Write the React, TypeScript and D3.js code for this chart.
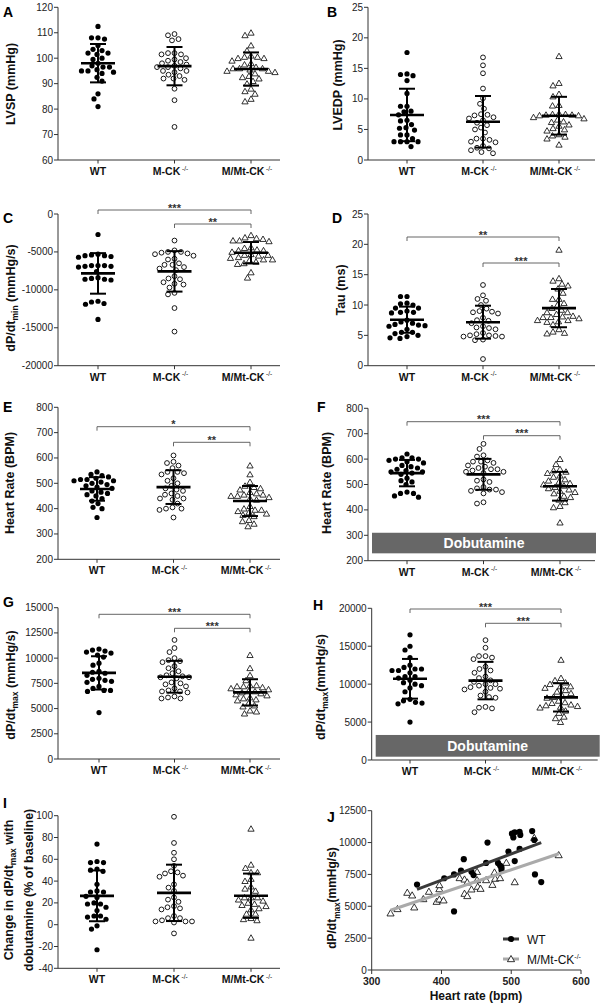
import React from 'react';
import * as d3 from 'd3';

const FONT = 'Arial, "Liberation Sans", Helvetica, sans-serif';
const groups = ['WT', 'M-CK', 'M/Mt-CK'];

// A: LVSP (mmHg)
const aWT = [112.5, 108, 108, 107.5, 105, 103.5, 103, 102, 102, 101.5, 100, 99.5, 98, 97, 96.5, 96.5, 95.5, 95, 95, 94.5, 94, 92.5, 91, 86, 84, 81];
const aMCK = [109.5, 109, 107.5, 107, 102, 102, 101.5, 101.5, 100, 99.5, 99, 98.5, 98, 97.5, 97, 96.5, 96.5, 96, 95, 95, 94.5, 93.5, 93, 92, 92, 91.5, 88, 83.5, 73];
const aMMT = [110, 109, 105, 103, 101, 100.5, 100.5, 100, 100, 99, 98, 97.5, 96.5, 96, 96, 96, 95.5, 95, 95, 94.5, 94, 93, 92.5, 92, 91, 90, 88, 87, 86, 84, 83];
// B: LVEDP (mmHg)
const bWT = [17.6, 14.1, 14.0, 13.8, 13.0, 10.9, 8.8, 8.8, 8.0, 7.9, 7.4, 6.5, 6.4, 5.8, 5.3, 5.2, 4.9, 4.1, 4.1, 3.5, 3.0, 3.0, 3.0, 3.0, 2.2];
const bMCK = [16.8, 15.5, 14.2, 11.7, 10.1, 9.2, 8.4, 7.5, 7.4, 7.3, 7.0, 6.8, 6.5, 6.1, 5.7, 5.3, 5.0, 4.5, 3.5, 3.5, 3.3, 3.0, 2.9, 2.3, 2.0, 1.9, 1.6, 1.3, 1.1];
const bMMT = [17.0, 12.6, 12.2, 10.8, 10.4, 9.0, 8.9, 7.6, 7.5, 7.5, 7.4, 7.4, 7.3, 7.3, 7.0, 6.8, 6.6, 6.3, 6.2, 5.8, 5.6, 5.2, 5.0, 4.8, 4.2, 4.0, 3.8, 3.5, 2.5];
// C: dP/dt min
const cWT = [-2700, -5300, -5400, -5500, -5500, -5600, -5700, -6800, -6800, -6900, -6900, -7000, -6800, -7600, -8400, -8500, -8600, -8700, -8600, -11500, -11600, -11800, -11900, -13900];
const cMCK = [-3500, -4800, -5000, -5000, -5100, -5200, -5300, -5500, -5900, -6000, -6500, -6700, -6700, -7000, -7200, -7400, -8200, -8500, -8600, -9000, -9200, -9300, -9700, -10400, -10600, -12400, -15500];
const cMMT = [-2800, -3100, -3200, -3300, -3500, -3500, -3600, -4700, -4800, -4400, -4500, -4800, -5000, -5300, -5400, -5400, -5500, -5700, -5800, -6000, -6000, -6100, -6300, -6500, -6600, -7700, -8400];
// D: Tau (ms)
const dWT = [11.4, 11.4, 10.3, 10.2, 10.0, 9.5, 9.5, 9.0, 8.8, 8.8, 8.7, 7.5, 7.2, 7.0, 6.8, 6.7, 6.6, 6.5, 6.0, 5.5, 5.5, 5.3, 5.0, 4.8, 4.6, 4.5];
const dMCK = [13.3, 11.6, 11.0, 10.7, 10.0, 9.4, 9.0, 8.9, 8.8, 8.6, 7.9, 7.5, 7.4, 7.0, 6.5, 6.3, 6.2, 6.0, 5.4, 5.2, 5.0, 5.0, 4.9, 4.8, 4.8, 4.3, 4.2, 1.1];
const dMMT = [19.1, 14.4, 14.0, 13.5, 13.2, 12.7, 12.0, 11.0, 11.0, 10.3, 10.0, 9.5, 9.2, 8.8, 8.8, 8.5, 8.2, 8.1, 8.0, 8.0, 7.8, 7.5, 7.5, 7.3, 7.2, 6.8, 6.0, 5.6, 5.4, 5.3];
// E: Heart rate (BPM)
const eWT = [545, 535, 530, 525, 520, 515, 515, 510, 510, 505, 500, 495, 490, 485, 480, 470, 465, 460, 455, 450, 440, 430, 420, 405, 400, 365];
const eMCK = [610, 585, 580, 570, 560, 545, 545, 540, 535, 520, 510, 500, 490, 480, 475, 470, 460, 455, 450, 440, 440, 435, 420, 405, 400, 400, 395, 365];
const eMMT = [570, 535, 505, 490, 485, 480, 475, 465, 460, 455, 455, 450, 450, 445, 440, 435, 410, 400, 395, 395, 390, 385, 380, 375, 370, 355, 350, 340, 330];
// F: Heart rate with dobutamine (BPM)
const fWT = [620, 605, 605, 600, 600, 595, 590, 585, 575, 570, 565, 560, 555, 550, 550, 545, 540, 525, 515, 510, 500, 470, 465, 465, 455, 450];
const fMCK = [660, 640, 615, 610, 595, 590, 590, 585, 575, 570, 565, 560, 560, 555, 550, 550, 545, 520, 515, 510, 490, 485, 480, 480, 475, 470, 465, 430, 425];
const fMMT = [600, 580, 560, 555, 550, 545, 535, 530, 520, 515, 510, 505, 500, 495, 490, 485, 480, 475, 470, 465, 455, 450, 440, 430, 415, 410, 350];
// G: dP/dt max
const gWT = [10900, 10800, 10700, 10600, 10500, 10300, 10100, 9500, 9300, 8700, 8600, 8500, 8300, 8000, 7900, 7800, 7700, 7600, 7200, 7000, 6800, 6700, 6800, 4600];
const gMCK = [11800, 11000, 10600, 10000, 9800, 9700, 9600, 9200, 9000, 8700, 8500, 8300, 8200, 8100, 8100, 8000, 7600, 7500, 7400, 7200, 7000, 6800, 6700, 6700, 6600, 6200, 6100, 6000, 6000];
const gMMT = [10300, 9000, 8300, 7800, 7300, 7300, 7200, 7200, 7100, 7000, 6900, 6700, 6700, 6600, 6500, 6400, 6300, 6100, 6000, 5900, 5800, 5500, 5300, 5200, 4800, 4700, 4500];
// H: dP/dt max with dobutamine
const hWT = [16500, 15000, 14500, 13500, 12500, 12200, 12000, 12000, 11800, 11800, 11500, 11000, 11000, 10800, 10500, 10200, 10000, 9800, 9500, 9000, 8000, 7800, 7600, 7500, 7400, 5000];
const hMCK = [15800, 14800, 13700, 13700, 13500, 13300, 12300, 12000, 11800, 11500, 11000, 10800, 10500, 10300, 10000, 10000, 9800, 9600, 9500, 9400, 9300, 9000, 8500, 8300, 8200, 7000, 6900, 6800, 6300];
const hMMT = [13200, 10800, 10500, 10200, 10000, 9700, 9700, 9500, 9200, 9000, 8800, 8500, 8300, 8200, 7800, 7600, 7500, 7300, 7200, 7100, 7000, 6900, 6500, 6200, 5700, 5500, 5000];
// I: change in dP/dt max (% of baseline)
const iWT = [74, 58, 57, 57, 51, 50, 49, 37, 31, 30, 30, 26, 25, 20, 19, 19, 16, 13, 8, 8, 7, 5, -1, -4, -23];
const iMCK = [99, 75, 66, 60, 54, 49, 48, 47, 45, 44, 37, 34, 31, 25, 23, 21, 17, 16, 15, 14, 8, 6, 6, 4, 3, 3, 3, 2, -8];
const iMMT = [88, 55, 52, 48, 48, 42, 40, 35, 33, 31, 25, 25, 25, 23, 22, 20, 19, 18, 17, 15, 14, 10, 10, 6, 5, 4, -12];
// J: dP/dt max vs heart rate
const jWtHR = [365, 404, 418, 418, 428, 432, 443, 446, 466, 464, 481, 484, 486, 486, 496, 501, 503, 505, 505, 512, 513, 512, 530, 533, 534, 543];
const jWtDp = [6700, 7200, 7500, 4600, 7800, 8700, 7700, 7450, 10000, 8400, 8400, 8200, 8050, 7850, 9300, 10700, 10400, 10800, 8550, 10850, 10600, 9500, 10900, 10200, 7500, 6900];
const jMmtHR = [327, 337, 351, 358, 361, 374, 382, 393, 397, 397, 397, 403, 426, 433, 433, 437, 437, 443, 451, 452, 456, 451, 464, 473, 477, 476, 484, 493, 505, 533, 568];
const jMmtDp = [4450, 4790, 6070, 5860, 4920, 5570, 6150, 5360, 5540, 6350, 6670, 5470, 7220, 7110, 5990, 5810, 6880, 6330, 7710, 6540, 6380, 7060, 7060, 6690, 7170, 7660, 7220, 8420, 6900, 10380, 9020];

type Seg = { t: string; sub?: boolean };
type Bracket = { from: number; to: number; y: number; stars: string };
type Panel = {
  letter: string; lx: number; ly: number;
  axisX: number; axisLen: number; cat: [number, number];
  yTop: number; yBot: number; domain: [number, number]; step: number;
  titles: { segs: Seg[]; x: number }[]; titleY: number;
  data: number[][];
  brackets: Bracket[];
  dob?: [number, number];
};

const dpMin: Seg[] = [{ t: 'dP/dt' }, { t: 'min', sub: true }, { t: ' (mmHg/s)' }];
const dpMax: Seg[] = [{ t: 'dP/dt' }, { t: 'max', sub: true }, { t: ' (mmHg/s)' }];
const dpMax2: Seg[] = [{ t: 'dP/dt' }, { t: 'max', sub: true }, { t: '(mmHg/s)' }];

const panels: Panel[] = [
  { letter: 'A', lx: 3, ly: 17, axisX: 58, axisLen: 222, cat: [98, 251], yTop: 7.3, yBot: 160, domain: [60, 120], step: 10,
    titles: [{ segs: [{ t: 'LVSP (mmHg)' }], x: 10 }], titleY: 84, data: [aWT, aMCK, aMMT], brackets: [] },
  { letter: 'B', lx: 327, ly: 17, axisX: 368, axisLen: 227, cat: [407, 559], yTop: 7.3, yBot: 160, domain: [0, 25], step: 5,
    titles: [{ segs: [{ t: 'LVEDP (mmHg)' }], x: 337 }], titleY: 85, data: [bWT, bMCK, bMMT], brackets: [] },
  { letter: 'C', lx: 3, ly: 223, axisX: 58, axisLen: 222, cat: [98, 251], yTop: 214, yBot: 365.7, domain: [-20000, 0], step: 5000,
    titles: [{ segs: dpMin, x: 10 }], titleY: 298, data: [cWT, cMCK, cMMT],
    brackets: [{ from: 0, to: 2, y: 210, stars: '***' }, { from: 1, to: 2, y: 224, stars: '**' }] },
  { letter: 'D', lx: 332, ly: 223, axisX: 368, axisLen: 227, cat: [407, 559], yTop: 214, yBot: 365.7, domain: [0, 25], step: 5,
    titles: [{ segs: [{ t: 'Tau (ms)' }], x: 340 }], titleY: 290, data: [dWT, dMCK, dMMT],
    brackets: [{ from: 0, to: 2, y: 237, stars: '**' }, { from: 1, to: 2, y: 263, stars: '***' }] },
  { letter: 'E', lx: 3, ly: 412, axisX: 58, axisLen: 222, cat: [97, 250], yTop: 407.3, yBot: 559.3, domain: [200, 800], step: 100,
    titles: [{ segs: [{ t: 'Heart Rate (BPM)' }], x: 9 }], titleY: 483, data: [eWT, eMCK, eMMT],
    brackets: [{ from: 0, to: 2, y: 426.7, stars: '*' }, { from: 1, to: 2, y: 442.3, stars: '**' }] },
  { letter: 'F', lx: 317, ly: 412, axisX: 368, axisLen: 227, cat: [407, 560], yTop: 408.3, yBot: 560.7, domain: [200, 800], step: 100,
    titles: [{ segs: [{ t: 'Heart Rate (BPM)' }], x: 326 }], titleY: 483, data: [fWT, fMCK, fMMT],
    brackets: [{ from: 0, to: 2, y: 421.7, stars: '***' }, { from: 1, to: 2, y: 435.7, stars: '***' }], dob: [229, 310] },
  { letter: 'G', lx: 3, ly: 607, axisX: 58, axisLen: 222, cat: [99, 250], yTop: 607.7, yBot: 759, domain: [0, 15000], step: 2500,
    titles: [{ segs: dpMax, x: 10 }], titleY: 685, data: [gWT, gMCK, gMMT],
    brackets: [{ from: 0, to: 2, y: 614.3, stars: '***' }, { from: 1, to: 2, y: 628.3, stars: '***' }] },
  { letter: 'H', lx: 313, ly: 610, axisX: 371.7, axisLen: 226, cat: [410, 561], yTop: 608.3, yBot: 760, domain: [0, 20000], step: 5000,
    titles: [{ segs: dpMax2, x: 320 }], titleY: 687, data: [hWT, hMCK, hMMT],
    brackets: [{ from: 0, to: 2, y: 609, stars: '***' }, { from: 1, to: 2, y: 623.3, stars: '***' }], dob: [435, 3300] },
  { letter: 'I', lx: 3, ly: 808, axisX: 58, axisLen: 222, cat: [97, 251], yTop: 815.7, yBot: 968.3, domain: [-40, 100], step: 20,
    titles: [
      { segs: [{ t: 'Change in dP/dt' }, { t: 'max', sub: true }, { t: ' with' }], x: 8 },
      { segs: [{ t: 'dobutamine (% of baseline)' }], x: 28 },
    ], titleY: 890, data: [iWT, iMCK, iMMT], brackets: [] },
];

function swarm(ys: number[], D: number): number[] {
  const order = ys.map((_, i) => i).sort((a, b) => ys[a] - ys[b]);
  const placed: { x: number; y: number }[] = [];
  const xs = new Array(ys.length).fill(0);
  for (const i of order) {
    const y = ys[i];
    let best = 0;
    for (let k = 0; k < 400; k++) {
      const off = (k % 2 === 0 ? 1 : -1) * Math.ceil(k / 2) * 0.5;
      if (placed.every((p) => (p.x - off) ** 2 + (p.y - y) ** 2 >= D * D)) { best = off; break; }
    }
    placed.push({ x: best, y });
    xs[i] = best;
  }
  return xs;
}

const triPath = d3.symbol(d3.symbolTriangle, 17)() as string;
const triPathBig = d3.symbol(d3.symbolTriangle, 22)() as string;

function Marker({ g, x, y, big }: { g: number; x: number; y: number; big?: boolean }) {
  if (g === 0) return <circle cx={x} cy={y} r={big ? 3.1 : 2.6} fill="#000" />;
  if (g === 1) return <circle cx={x} cy={y} r={2.4} fill="#fff" stroke="#000" strokeWidth={0.9} />;
  return <path d={big ? triPathBig : triPath} transform={`translate(${x},${y + 0.6})`} fill="#fff" stroke="#000" strokeWidth={0.8} />;
}

function RotTitle({ segs, x, y, size = 12.5 }: { segs: Seg[]; x: number; y: number; size?: number }) {
  return (
    <text transform={`translate(${x + size * 0.36},${y}) rotate(-90)`} textAnchor="middle" fontFamily={FONT}
      fontWeight="bold" fontSize={size} fill="#111">
      {segs.map((s, i) =>
        s.sub ? <tspan key={i} fontSize={size * 0.68} dy={3.5}>{s.t}</tspan>
          : <tspan key={i} dy={i > 0 && segs[i - 1].sub ? -3.5 : 0}>{s.t}</tspan>
      )}
    </text>
  );
}

function CatLabel({ x, y, name }: { x: number; y: number; name: string }) {
  const sup = name !== 'WT';
  return (
    <text x={sup ? x - 4 : x} y={y} textAnchor="middle" fontFamily={FONT} fontWeight="bold" fontSize={10.5} fill="#111">
      {name}
      {sup && <tspan fontSize={6.5} fontWeight="normal" dy={-4.5}>{' -/-'}</tspan>}
    </text>
  );
}

function DotPanel({ p }: { p: Panel }) {
  const y = d3.scaleLinear().domain(p.domain).range([p.yBot, p.yTop]);
  const x = d3.scalePoint<string>().domain(groups).range(p.cat);
  const ticks = d3.range(p.domain[0], p.domain[1] + p.step / 2, p.step);
  return (
    <g>
      <text x={p.lx} y={p.ly} fontFamily={FONT} fontWeight="bold" fontSize={14} fill="#000">{p.letter}</text>
      {p.titles.map((t, i) => <RotTitle key={i} segs={t.segs} x={t.x} y={p.titleY} />)}
      {p.dob && (
        <g>
          <rect x={p.axisX + 4} y={y(p.dob[1])} width={224} height={y(p.dob[0]) - y(p.dob[1])} fill="#676767" />
          <text x={p.axisX + 116} y={(y(p.dob[0]) + y(p.dob[1])) / 2 + 5} textAnchor="middle" fontFamily={FONT}
            fontWeight="bold" fontSize={14} fill="#fff">Dobutamine</text>
        </g>
      )}
      <line x1={p.axisX} x2={p.axisX} y1={p.yTop} y2={p.yBot} stroke="#333" strokeWidth={1} />
      <line x1={p.axisX} x2={p.axisX + p.axisLen} y1={p.yBot} y2={p.yBot} stroke="#333" strokeWidth={1} />
      {ticks.map((t) => (
        <g key={t}>
          <line x1={p.axisX - 4} x2={p.axisX} y1={y(t)} y2={y(t)} stroke="#333" strokeWidth={1} />
          <text x={p.axisX - 5} y={y(t) + 3.5} textAnchor="end" fontFamily={FONT} fontSize={10} fill="#222">{t}</text>
        </g>
      ))}
      {groups.map((g) => (
        <g key={g}>
          <line x1={x(g)!} x2={x(g)!} y1={p.yBot} y2={p.yBot + 3.5} stroke="#333" strokeWidth={1} />
          <CatLabel x={x(g)!} y={p.yBot + 15} name={g} />
        </g>
      ))}
      {p.brackets.map((b, i) => {
        const x1 = x(groups[b.from])!;
        const x2 = x(groups[b.to])!;
        return (
          <g key={i}>
            <path d={`M${x1},${b.y + 4}V${b.y}H${x2}V${b.y + 4}`} fill="none" stroke="#555" strokeWidth={0.9} />
            <text x={(x1 + x2) / 2} y={b.y + 1.5} textAnchor="middle" fontFamily={FONT} fontWeight="bold" fontSize={11} fill="#333">{b.stars}</text>
          </g>
        );
      })}
      {p.data.map((vals, gi) => {
        const ys = vals.map((v) => y(v));
        const offs = swarm(ys, 6.2);
        const cx = x(groups[gi])!;
        return (
          <g key={gi}>
            {vals.map((v, i) => <Marker key={i} g={gi} x={cx + offs[i]} y={ys[i]} />)}
          </g>
        );
      })}
      {p.data.map((vals, gi) => {
        const m = d3.mean(vals)!;
        const sd = d3.deviation(vals)!;
        const cx = x(groups[gi])!;
        return (
          <g key={'m' + gi} stroke="#000">
            <line x1={cx - 17} x2={cx + 17} y1={y(m)} y2={y(m)} strokeWidth={2.6} />
            <line x1={cx} x2={cx} y1={y(m - sd)} y2={y(m + sd)} strokeWidth={2} />
            <line x1={cx - 8} x2={cx + 8} y1={y(m - sd)} y2={y(m - sd)} strokeWidth={2} />
            <line x1={cx - 8} x2={cx + 8} y1={y(m + sd)} y2={y(m + sd)} strokeWidth={2} />
          </g>
        );
      })}
    </g>
  );
}

function fit(xs: number[], ys: number[]) {
  const mx = d3.mean(xs)!;
  const my = d3.mean(ys)!;
  let num = 0, den = 0;
  xs.forEach((xv, i) => { num += (xv - mx) * (ys[i] - my); den += (xv - mx) ** 2; });
  const b = num / den;
  const a = my - b * mx;
  const [x0, x1] = d3.extent(xs) as [number, number];
  return [[x0, a + b * x0], [x1, a + b * x1]];
}

function PanelJ() {
  const x = d3.scaleLinear().domain([300, 600]).range([371.7, 581]);
  const y = d3.scaleLinear().domain([0, 12500]).range([970, 810.7]);
  const line = d3.line<number[]>().x((d) => x(d[0])).y((d) => y(d[1]));
  const wtFit = fit(jWtHR, jWtDp);
  const mmFit = fit(jMmtHR, jMmtDp);
  const yt = d3.range(0, 12501, 2500);
  const xt = d3.range(300, 601, 100);
  return (
    <g>
      <text x={327} y={822} fontFamily={FONT} fontWeight="bold" fontSize={14} fill="#000">J</text>
      <RotTitle segs={dpMax2} x={332} y={898} size={12} />
      <line x1={x(300)} x2={x(300)} y1={y(12500)} y2={y(0)} stroke="#333" />
      <line x1={x(300)} x2={x(600)} y1={y(0)} y2={y(0)} stroke="#333" />
      {yt.map((t) => (
        <g key={t}>
          <line x1={x(300) - 4} x2={x(300)} y1={y(t)} y2={y(t)} stroke="#333" />
          <text x={x(300) - 5} y={y(t) + 3.5} textAnchor="end" fontFamily={FONT} fontSize={10} fill="#222">{t}</text>
        </g>
      ))}
      {xt.map((t) => (
        <g key={t}>
          <line x1={x(t)} x2={x(t)} y1={y(0)} y2={y(0) + 4} stroke="#333" />
          <text x={x(t)} y={y(0) + 15} textAnchor="middle" fontFamily={FONT} fontWeight="bold" fontSize={10.5} fill="#222">{t}</text>
        </g>
      ))}
      <text x={476} y={1000} textAnchor="middle" fontFamily={FONT} fontWeight="bold" fontSize={12} fill="#111">Heart rate (bpm)</text>
      {jMmtHR.map((h, i) => <Marker key={'t' + i} g={2} x={x(h)} y={y(jMmtDp[i])} big />)}
      {jWtHR.map((h, i) => <Marker key={'c' + i} g={0} x={x(h)} y={y(jWtDp[i])} big />)}
      <path d={line(mmFit)!} stroke="#aaaaaa" strokeWidth={3} fill="none" />
      <path d={line(wtFit)!} stroke="#3a3a3a" strokeWidth={3} fill="none" />
      <line x1={503} x2={519} y1={939} y2={939} stroke="#3a3a3a" strokeWidth={3} />
      <Marker g={0} x={511} y={939} big />
      <text x={527} y={943.5} fontFamily={FONT} fontSize={12} fill="#111">WT</text>
      <line x1={503} x2={519} y1={959} y2={959} stroke="#aaaaaa" strokeWidth={3} />
      <Marker g={2} x={511} y={959} big />
      <text x={527} y={963.5} fontFamily={FONT} fontSize={12} fill="#111">
        M/Mt-CK<tspan fontSize={7} dy={-4.5}>-/-</tspan>
      </text>
    </g>
  );
}

export default function App() {
  return (
    <svg width={602} height={1003} viewBox="0 0 602 1003"
      style={{ position: 'absolute', left: 0, top: 0, background: '#fff' }}>
      <rect width={602} height={1003} fill="#fff" />
      {panels.map((p) => <DotPanel key={p.letter} p={p} />)}
      <PanelJ />
    </svg>
  );
}
